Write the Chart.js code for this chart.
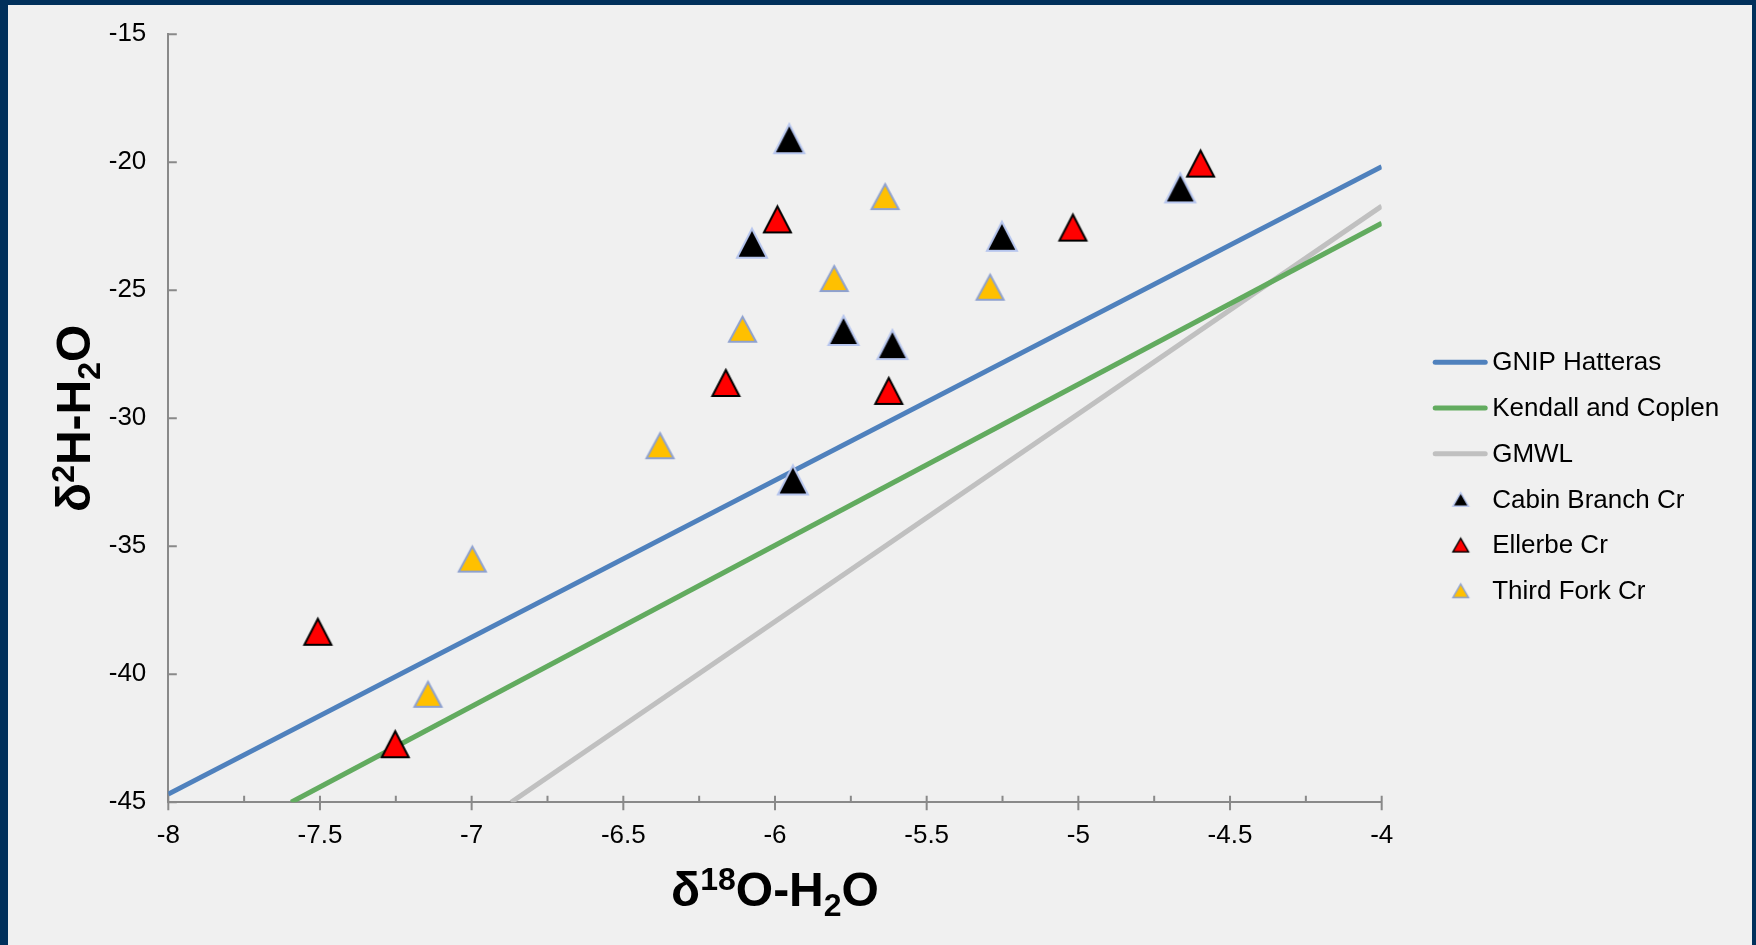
<!DOCTYPE html>
<html>
<head>
<meta charset="utf-8">
<title>δ18O vs δ2H</title>
<script src="https://cdn.jsdelivr.net/npm/chart.js@4.4.1/dist/chart.umd.min.js"></script>
<style>
  html, body { margin: 0; padding: 0; background: #01305b; overflow: hidden; }
  #frame { position: absolute; left: 8px; top: 5px; width: 1744px; height: 940px; background: #f0f0f0; }
  canvas { display: block; }
</style>
</head>
<body>
<div id="frame"><canvas id="chart" width="1744" height="940"></canvas></div>
<script>
// axis ranges and tick labels
var xMin = -8, xMax = -4;
var yMin = -45, yMax = -15;
var xTickValues = [-8, -7.5, -7, -6.5, -6, -5.5, -5, -4.5, -4];
var yTickValues = [-45, -40, -35, -30, -25, -20, -15];
var xMinorStep = 0.25;

// meteoric water lines (end points)
var gnipX = [-8, -4];
var gnipY = [-44.68, -20.17];
var kendallX = [-7.595, -4];
var kendallY = [-45, -22.38];
var gmwlX = [-6.87, -4];
var gmwlY = [-45, -21.71];

// stream samples
var cabinX = [-5.953, -6.076, -5.252, -5.774, -5.613, -4.664, -5.941];
var cabinY = [-19.08, -23.16, -22.89, -26.57, -27.12, -21.0, -32.41];
var ellerbeX = [-5.992, -6.162, -5.625, -5.018, -4.597, -7.507, -7.252];
var ellerbeY = [-22.23, -28.62, -28.93, -22.55, -20.05, -38.34, -42.73];
var thirdForkX = [-5.637, -5.805, -5.291, -6.107, -6.379, -6.998, -7.144];
var thirdForkY = [-21.34, -24.54, -24.88, -26.52, -31.07, -35.50, -40.78];

function toPoints(xs, ys) {
    return xs.map(function (x, i) { return { x: x, y: ys[i] }; });
}

// triangle marker drawn on a small canvas, used as point style
function triangle(w, h, fill, stroke, lw) {
    var pad = 3;
    var c = document.createElement('canvas');
    c.width = w + pad * 2;
    c.height = h + pad * 2;
    var g = c.getContext('2d');
    g.beginPath();
    g.moveTo(pad + w / 2, pad + lw / 2);
    g.lineTo(pad + w - lw / 2, pad + h - lw / 2);
    g.lineTo(pad + lw / 2, pad + h - lw / 2);
    g.closePath();
    g.fillStyle = fill;
    g.fill();
    g.lineWidth = lw;
    g.lineJoin = 'miter';
    g.strokeStyle = stroke;
    g.stroke();
    return c;
}

var axisColor = '#898989';
var font = '"Liberation Sans", Arial, sans-serif';

function lineSet(label, xs, ys, color) {
    return {
        label: label,
        data: toPoints(xs, ys),
        showLine: true,
        borderColor: color,
        backgroundColor: color,
        borderWidth: 5,
        pointRadius: 0,
        clip: 0,
        order: 1
    };
}

function markerSet(label, xs, ys, big, small) {
    return {
        label: label,
        data: toPoints(xs, ys),
        showLine: false,
        pointStyle: big,
        pointRadius: 10,
        legendMarker: small,
        order: 0
    };
}

// axis title made of normal / raised / lowered pieces
function drawRich(ctx, parts, cx, baseY) {
    var big = 'bold 48px ' + font, small = 'bold 32px ' + font;
    var total = 0;
    parts.forEach(function (p) {
        ctx.font = p[1] ? small : big;
        total += ctx.measureText(p[0]).width;
    });
    var x = cx - total / 2;
    ctx.textAlign = 'left';
    ctx.textBaseline = 'alphabetic';
    parts.forEach(function (p) {
        ctx.font = p[1] ? small : big;
        var dy = p[1] === 'sup' ? -16 : (p[1] === 'sub' ? 10 : 0);
        ctx.fillText(p[0], x, baseY + dy);
        x += ctx.measureText(p[0]).width;
    });
}

var decor = {
    id: 'decor',
    beforeDatasetsDraw: function (chart) {
        var ctx = chart.ctx, a = chart.chartArea;
        var xs = chart.scales.x, ys = chart.scales.y;
        ctx.save();
        ctx.strokeStyle = axisColor;
        ctx.lineWidth = 2;
        ctx.beginPath();
        for (var v = xMin; v <= xMax + 1e-9; v += xMinorStep) {
            var px = xs.getPixelForValue(v);
            var major = Math.abs(v * 2 - Math.round(v * 2)) < 1e-6;
            ctx.moveTo(px, a.bottom - 6.5);
            ctx.lineTo(px, major ? a.bottom + 8 : a.bottom);
        }
        yTickValues.forEach(function (t) {
            var py = ys.getPixelForValue(t);
            ctx.moveTo(a.left, py);
            ctx.lineTo(a.left + 8.5, py);
        });
        ctx.stroke();
        ctx.restore();
    },
    afterDraw: function (chart) {
        var ctx = chart.ctx, a = chart.chartArea;
        ctx.save();
        ctx.fillStyle = '#000';

        // axis titles
        drawRich(ctx, [['δ'], ['18', 'sup'], ['O-H'], ['2', 'sub'], ['O']],
            (a.left + a.right) / 2, a.bottom + 104);
        ctx.save();
        ctx.translate(a.left - 78, (a.top + a.bottom) / 2);
        ctx.rotate(-Math.PI / 2);
        drawRich(ctx, [['δ'], ['2', 'sup'], ['H-H'], ['2', 'sub'], ['O']], 0, 0);
        ctx.restore();

        // legend
        var lx = a.right + 51, ly = 357.3, step = 45.7;
        ctx.font = '26px ' + font;
        ctx.textAlign = 'left';
        ctx.textBaseline = 'middle';
        chart.data.datasets.forEach(function (ds, i) {
            var y = ly + i * step;
            if (ds.showLine) {
                ctx.strokeStyle = ds.borderColor;
                ctx.lineWidth = 5;
                ctx.lineCap = 'round';
                ctx.beginPath();
                ctx.moveTo(lx + 2.5, y);
                ctx.lineTo(lx + 52.5, y);
                ctx.stroke();
            } else {
                var m = ds.legendMarker;
                ctx.drawImage(m, lx + 28 - m.width / 2, y - m.height / 2);
            }
            ctx.fillStyle = '#000';
            ctx.fillText(ds.label, lx + 59.5, y + 1);
        });
        ctx.restore();
    }
};

var ctx = document.getElementById('chart').getContext('2d');

var chart = new Chart(ctx, {
    type: 'scatter',
    data: {
        datasets: [
            lineSet('GNIP Hatteras', gnipX, gnipY, '#4f81bd'),
            lineSet('Kendall and Coplen', kendallX, kendallY, '#62ab5f'),
            lineSet('GMWL', gmwlX, gmwlY, '#c0c0c0'),
            markerSet('Cabin Branch Cr', cabinX, cabinY,
                triangle(32, 31, '#000000', '#b7c6ee', 2),
                triangle(17, 15, '#000000', '#b7c6ee', 1.5)),
            markerSet('Ellerbe Cr', ellerbeX, ellerbeY,
                triangle(29, 28, '#ff0000', '#000000', 2),
                triangle(17, 15, '#ff0000', '#000000', 1.5)),
            markerSet('Third Fork Cr', thirdForkX, thirdForkY,
                triangle(29, 27, '#ffc000', '#8ea1cf', 2),
                triangle(17, 15, '#ffc000', '#8ea1cf', 1.5))
        ]
    },
    options: {
        responsive: false,
        animation: false,
        layout: { padding: { top: 29.3, right: 370.3, left: 0, bottom: 0 } },
        plugins: {
            legend: { display: false },
            tooltip: { enabled: false }
        },
        scales: {
            x: {
                type: 'linear',
                min: xMin,
                max: xMax,
                afterBuildTicks: function (s) { s.ticks = xTickValues.map(function (v) { return { value: v }; }); },
                afterFit: function (s) { s.height = 142.7; },
                grid: { display: false, drawTicks: true, tickLength: 18 },
                border: { display: true, color: axisColor, width: 2 },
                ticks: {
                    padding: 0,
                    color: '#000',
                    font: { family: font, size: 26 },
                    maxRotation: 0,
                    autoSkip: false,
                    callback: function (v) { return String(v); }
                }
            },
            y: {
                type: 'linear',
                min: yMin,
                max: yMax,
                afterBuildTicks: function (s) { s.ticks = yTickValues.map(function (v) { return { value: v }; }); },
                afterFit: function (s) { s.width = 160.3; },
                grid: { display: false, drawTicks: true, tickLength: 22 },
                border: { display: true, color: axisColor, width: 2 },
                ticks: {
                    padding: 0,
                    color: '#000',
                    font: { family: font, size: 26 },
                    autoSkip: false,
                    callback: function (v) { return String(v); }
                }
            }
        }
    },
    plugins: [decor]
});
</script>
</body>
</html>
